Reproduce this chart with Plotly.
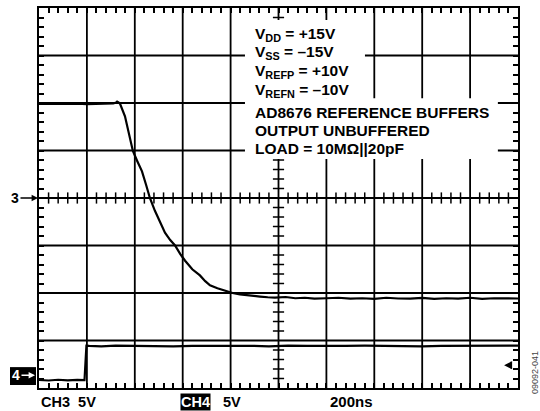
import plotly.graph_objects as go

# Oscilloscope capture: 200 ns/div, 10 horizontal divisions
TIME_PER_DIV_NS = 200
X_DIVS = 10
VOLT_PER_DIV = 5
Y_DIVS = 8

# CH3: reference buffer output (V), settling from +10 V to about -10.5 V
ch3_t = [0, 40, 80, 120, 160, 200, 240, 280, 310, 322, 326, 332, 338,
         359, 376, 392, 410, 430, 447, 463, 484, 505, 526, 547, 568, 590,
         610, 640, 672, 694, 714, 745, 777, 808, 839, 880, 923, 955, 985,
         1030, 1070, 1110, 1150, 1200, 1250, 1300, 1350, 1400, 1450, 1500,
         1550, 1600, 1650, 1700, 1750, 1800, 1850, 1900, 1950, 2000]
ch3_v = [9.9, 9.92, 9.88, 9.9, 9.93, 9.88, 9.9, 9.92, 9.95, 10.05, 10.15, 10.05, 9.95,
         8.6, 6.8, 4.95, 3.9, 2.8, 1.4, 0.0, -1.35, -2.6, -3.65, -4.4, -5.0, -5.9,
         -6.6, -7.5, -8.15, -8.75, -9.2, -9.5, -9.75, -10.0, -10.15, -10.3, -10.38, -10.45, -10.48,
         -10.42, -10.55, -10.5, -10.6, -10.55, -10.5, -10.6, -10.55, -10.62, -10.5, -10.58,
         -10.6, -10.52, -10.62, -10.55, -10.6, -10.5, -10.62, -10.55, -10.6, -10.58]

# CH4: logic step input (V)
ch4_t = [0, 40, 80, 120, 160, 190, 194, 198, 210, 260, 320, 400, 480, 560, 640, 720,
         800, 880, 960, 1040, 1120, 1200, 1280, 1360, 1440, 1520, 1600, 1680,
         1760, 1840, 1920, 2000]
ch4_v = [0.0, -0.05, 0.03, -0.04, 0.02, 0.0, 1.8, 3.62, 3.6, 3.55, 3.62, 3.58, 3.6, 3.55, 3.6, 3.62,
         3.58, 3.6, 3.55, 3.62, 3.6, 3.57, 3.6, 3.62, 3.58, 3.6, 3.55, 3.6,
         3.62, 3.58, 3.6, 3.62]

# Test conditions printed on screen
conditions = [
    "V<sub>DD</sub> = +15V",
    "V<sub>SS</sub> = –15V",
    "V<sub>REFP</sub> = +10V",
    "V<sub>REFN</sub> = –10V",
    "AD8676 REFERENCE BUFFERS",
    "OUTPUT UNBUFFERED",
    "LOAD = 10MΩ||20pF",
]
condition_y = [17.25, 15.3, 13.3, 11.3, 8.95, 7.1, 5.2]

x_max = TIME_PER_DIV_NS * X_DIVS
y_half = VOLT_PER_DIV * Y_DIVS / 2
ch4_range = [-0.84, -0.84 + VOLT_PER_DIV * Y_DIVS]

FONT = "Arial, Liberation Sans, sans-serif"
INK = "black"

fig = go.Figure()

# graticule ticks every 0.2 div
step_x = TIME_PER_DIV_NS / 5
step_y = VOLT_PER_DIV / 5
minor_x = [i * step_x for i in range(1, X_DIVS * 5) if i % 5]
minor_y = [-y_half + i * step_y for i in range(1, Y_DIVS * 5) if i % 5]


def tick_marks(xs, ys, symbol, size):
    return go.Scatter(x=xs, y=ys, mode="markers", cliponaxis=False,
                      marker=dict(symbol=symbol, size=size, color=INK,
                                  line=dict(width=1.5, color=INK)),
                      hoverinfo="skip", showlegend=False)


# centre crosshair ticks
fig.add_trace(tick_marks(minor_x, [0] * len(minor_x), "line-ns-open", 8))
fig.add_trace(tick_marks([x_max / 2] * len(minor_y), minor_y, "line-ew-open", 8))

fig.add_trace(go.Scatter(x=ch3_t, y=ch3_v, mode="lines", name="CH3",
                         line=dict(color=INK, width=2.2), showlegend=False))
fig.add_trace(go.Scatter(x=ch4_t, y=ch4_v, mode="lines", name="CH4", yaxis="y2",
                         line=dict(color=INK, width=2.2), showlegend=False))

# the axes carry the 0.2-div edge ticks (inside, on all four sides);
# the major division lines are drawn as shapes below
axis_common = dict(
    showgrid=False, showticklabels=False,
    ticks="inside", ticklen=5, tickcolor=INK, tickwidth=1.5,
    showline=True, linecolor=INK, linewidth=2.4, mirror="ticks",
    zeroline=False, fixedrange=True,
)

fig.update_layout(
    width=540, height=411,
    margin=dict(l=39, r=22, t=6, b=23),
    paper_bgcolor="white", plot_bgcolor="white",
    xaxis=dict(range=[0, x_max], dtick=step_x, tick0=0, **axis_common),
    yaxis=dict(range=[-y_half, y_half], dtick=step_y, tick0=-y_half, **axis_common),
    yaxis2=dict(range=ch4_range, overlaying="y", visible=False, fixedrange=True),
    font=dict(family=FONT, color=INK),
)

# division lines
grid_line = dict(color=INK, width=1.8)
for i in range(1, X_DIVS):
    xv = i * TIME_PER_DIV_NS
    fig.add_shape(type="line", xref="x", yref="y", x0=xv, x1=xv,
                  y0=-y_half, y1=y_half, line=grid_line, layer="below")
for j in range(1, Y_DIVS):
    yv = -y_half + j * VOLT_PER_DIV
    fig.add_shape(type="line", xref="x", yref="y", x0=0, x1=x_max,
                  y0=yv, y1=yv, line=grid_line, layer="below")

# white panel behind the condition text
fig.add_shape(type="rect", xref="x", yref="y", x0=860, x1=1361, y0=10.45, y1=18.75,
              fillcolor="white", line=dict(width=0), layer="above")
fig.add_shape(type="rect", xref="x", yref="y", x0=860, x1=1916, y0=4.1, y1=10.5,
              fillcolor="white", line=dict(width=0), layer="above")

for txt, yv in zip(conditions, condition_y):
    fig.add_annotation(text=f"<b>{txt}</b>", x=895, y=yv, xref="x", yref="y",
                       xanchor="left", yanchor="middle", showarrow=False,
                       font=dict(size=15.5, family=FONT, color=INK))

# CH3 ground marker
fig.add_annotation(text="<b>3</b>", x=0, y=0, xref="paper", yref="y",
                   ax=-24, ay=0, axref="pixel", ayref="pixel", showarrow=True,
                   arrowhead=2, arrowsize=0.8, arrowwidth=1.6, arrowcolor=INK,
                   standoff=1, font=dict(size=14, family=FONT, color=INK))

# CH4 ground marker: inverse box with white digit and arrow
fig.add_shape(type="rect", xref="paper", yref="paper",
              x0=-29 / 479, x1=-3 / 479, y0=3 / 382, y1=21 / 382,
              fillcolor=INK, line=dict(width=0), layer="above")
fig.add_annotation(text="<b>4</b>", x=-4 / 479, y=0.5, xref="paper", yref="y2",
                   ax=-19, ay=0, axref="pixel", ayref="pixel", showarrow=True,
                   arrowhead=2, arrowsize=0.8, arrowwidth=1.6, arrowcolor="white",
                   standoff=0, font=dict(size=14, family=FONT, color="white"))

# trigger level marker on the right edge
fig.add_annotation(text="", x=0.971, y=0.06, xref="paper", yref="paper",
                   ax=9, ay=0, axref="pixel", ayref="pixel", showarrow=True,
                   arrowhead=2, arrowsize=1, arrowwidth=1.6, arrowcolor=INK)
fig.add_shape(type="line", xref="paper", yref="paper", x0=0.9855, x1=0.9855,
              y0=0.052, y1=0.069, line=dict(color=INK, width=1.6))

# scale readouts under the screen
fig.add_annotation(text="<b>CH3  5V</b>", x=0, y=-0.036, xref="paper", yref="paper",
                   xanchor="left", yanchor="middle", showarrow=False,
                   font=dict(size=14.5, family=FONT, color=INK))
fig.add_annotation(text="<b>CH4</b>", x=0.294, y=-0.036, xref="paper", yref="paper",
                   xanchor="left", yanchor="middle", showarrow=False,
                   bgcolor=INK, borderpad=0,
                   font=dict(size=14.5, family=FONT, color="white"))
fig.add_annotation(text="<b>5V</b>", x=0.381, y=-0.036, xref="paper", yref="paper",
                   xanchor="left", yanchor="middle", showarrow=False,
                   font=dict(size=14.5, family=FONT, color=INK))
fig.add_annotation(text="<b>200ns</b>", x=0.603, y=-0.036, xref="paper", yref="paper",
                   xanchor="left", yanchor="middle", showarrow=False,
                   font=dict(size=15, family=FONT, color=INK))

# figure code
fig.add_annotation(text="09092-041", x=1.036, y=0.04, xref="paper", yref="paper",
                   xanchor="center", yanchor="middle", textangle=-90, showarrow=False,
                   font=dict(size=9, family=FONT, color="#444444"))

fig.write_html("out.html")
